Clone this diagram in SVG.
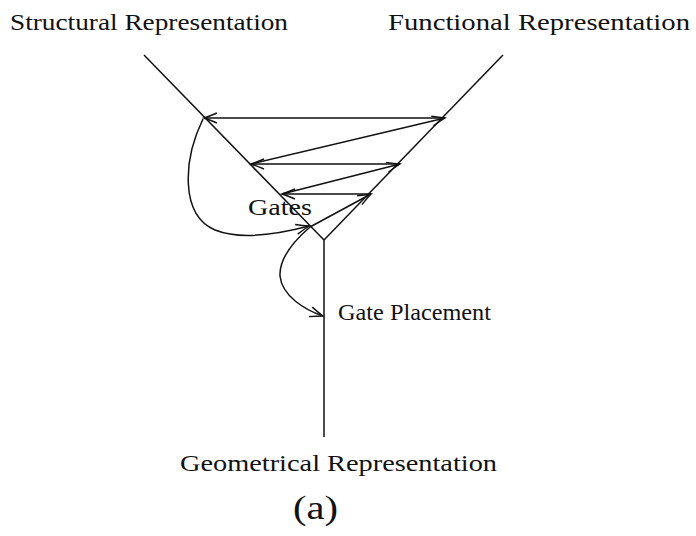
<svg xmlns="http://www.w3.org/2000/svg" width="696" height="536" viewBox="0 0 696 536">
<style>
.t{font-family:"Liberation Serif","DejaVu Serif",serif;fill:#111}
.ln{stroke:#111;stroke-width:1.5;fill:none}
</style>
<defs>
<marker id="ah" markerUnits="userSpaceOnUse" markerWidth="16" markerHeight="12" refX="13" refY="6" orient="auto" overflow="visible">
<path d="M0,1 Q7,4 13,6 Q7,8 0,11" fill="none" stroke="#111" stroke-width="1.4"/>
</marker>
</defs>
<rect width="696" height="536" fill="#fff"/>
<g id="axes">
<line class="ln" x1="144" y1="55" x2="324" y2="240"/>
<line class="ln" x1="503" y1="55" x2="324" y2="240"/>
<line class="ln" x1="324" y1="240" x2="324" y2="437"/>
</g>
<g id="connectors">
<line class="ln" x1="445" y1="118" x2="204" y2="118" marker-end="url(#ah)"/>
<line class="ln" x1="251" y1="164" x2="445" y2="118" marker-end="url(#ah)"/>
<line class="ln" x1="400" y1="164" x2="251" y2="164" marker-end="url(#ah)"/>
<line class="ln" x1="282" y1="194" x2="400" y2="164" marker-end="url(#ah)"/>
<line class="ln" x1="371" y1="194" x2="282" y2="194" marker-end="url(#ah)"/>
<line class="ln" x1="310" y1="227" x2="371" y2="194" marker-end="url(#ah)"/>
<path class="ln" d="M203,119 C183,160 180,215 215,230 C240,240 275,235 309,226" marker-end="url(#ah)"/>
<path class="ln" d="M310,227 C295,240 279,258 280,276 C282,296 305,310 323,316" marker-end="url(#ah)"/>
</g>
<g id="labels">
<text class="t" x="10" y="30" font-size="23" textLength="278" lengthAdjust="spacingAndGlyphs">Structural Representation</text>
<text class="t" x="388" y="30" font-size="23" textLength="302" lengthAdjust="spacingAndGlyphs">Functional Representation</text>
<text class="t" x="248" y="215" font-size="23" textLength="64" lengthAdjust="spacingAndGlyphs">Gates</text>
<text class="t" x="338" y="320" font-size="23" textLength="153" lengthAdjust="spacingAndGlyphs">Gate Placement</text>
<text class="t" x="180" y="471" font-size="23" textLength="317" lengthAdjust="spacingAndGlyphs">Geometrical Representation</text>
<text class="t" x="293" y="519" font-size="33" textLength="45" lengthAdjust="spacingAndGlyphs">(a)</text>
</g>
</svg>
